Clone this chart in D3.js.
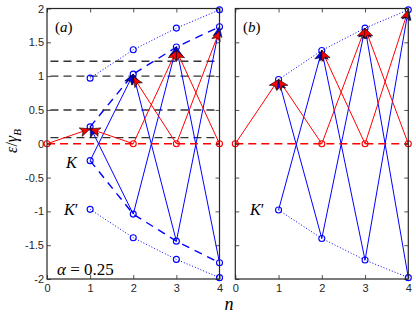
<!DOCTYPE html>
<html>
<head>
<meta charset="utf-8">
<script src="https://cdn.jsdelivr.net/npm/d3@7"></script>
<style>
body { margin: 0; background: #fff; }
svg { display: block; }
</style>
</head>
<body>
<svg id="chart" width="416" height="314"></svg>
<script>
var nTicks = [0, 1, 2, 3, 4];
var yTicks = [-2, -1.5, -1, -0.5, 0, 0.5, 1, 1.5, 2];
var levelN = [1, 2, 3, 4];
var zeroN = [0, 2, 3, 4];

// panel (a), alpha = 0.25
var aKpUp = [0.97, 1.39, 1.71, 1.98];
var aKpDown = [-0.97, -1.39, -1.71, -1.98];
var aKUp = [0.25, 1.03, 1.43, 1.73];
var aKDown = [-0.25, -1.04, -1.44, -1.76];
var aRedTop = [0.22, 0.99, 1.38, 1.67];
var aGuides = [1.22, 1.0, 0.5, 0.09];

// panel (b)
var bUp = [0.95, 1.38, 1.71, 1.98];
var bDown = [-0.98, -1.40, -1.72, -1.98];

// transitions: red from zero level at n to top level at m, blue from lower level at n to top level at m
var redFrom = [0, 2, 2, 3, 3, 4];
var redTo = [1, 1, 3, 2, 4, 3];
var blueFrom = [1, 2, 2, 3, 3, 4];
var blueTo = [2, 1, 3, 2, 4, 3];

var RED = '#ff0000', BLUE = '#0000ff', AX = '#262626';

var svg = d3.select('#chart');

var y = d3.scaleLinear().domain([-2, 2]).range([279, 8.5]);
var xA = d3.scaleLinear().domain([0, 4]).range([47, 219.5]);
var xB = d3.scaleLinear().domain([0, 4]).range([235.3, 408.3]);

function drawAxes(x, showY) {
  var g = svg.append('g');
  var bottom = d3.axisBottom(x).tickValues(nTicks).tickSize(-4).tickSizeOuter(0).tickPadding(5)
    .tickFormat(function(d) { return String(d); });
  var top = d3.axisTop(x).tickValues(nTicks).tickSize(-4).tickSizeOuter(0).tickFormat('');
  var left = d3.axisLeft(y).tickValues(yTicks).tickSize(-4).tickSizeOuter(0).tickPadding(3)
    .tickFormat(function(d) { return showY ? String(d) : ''; });
  var right = d3.axisRight(y).tickValues(yTicks).tickSize(-4).tickSizeOuter(0).tickFormat('');

  g.append('g').attr('transform', 'translate(0,' + y(-2) + ')').call(bottom);
  g.append('g').attr('transform', 'translate(0,' + y(2) + ')').call(top);
  g.append('g').attr('transform', 'translate(' + x(0) + ',0)').call(left);
  g.append('g').attr('transform', 'translate(' + x(4) + ',0)').call(right);

  g.selectAll('.domain').remove();
  g.selectAll('.tick line').attr('stroke', AX).attr('stroke-width', 0.8);
  g.selectAll('.tick text')
    .attr('fill', AX)
    .style('font-family', '"Liberation Sans", Arial, sans-serif')
    .style('font-size', '11px');

  g.append('rect')
    .attr('x', x(0)).attr('y', y(2))
    .attr('width', x(4) - x(0)).attr('height', y(-2) - y(2))
    .attr('fill', 'none').attr('stroke', AX).attr('stroke-width', 1.2);
}

function polyline(x, ns, vals, stroke, dash, width) {
  var line = d3.line().x(function(d, i) { return x(ns[i]); }).y(function(d) { return y(d); });
  svg.append('path')
    .attr('d', line(vals))
    .attr('fill', 'none')
    .attr('stroke', stroke)
    .attr('stroke-width', width)
    .attr('stroke-dasharray', dash);
}

function circles(x, ns, vals, stroke) {
  svg.append('g').selectAll('circle')
    .data(vals).join('circle')
      .attr('cx', function(d, i) { return x(ns[i]); })
      .attr('cy', function(d) { return y(d); })
      .attr('r', 3)
      .attr('fill', 'none')
      .attr('stroke', stroke)
      .attr('stroke-width', 1.1);
}

function arrowHead(x0, y0, x1, y1, color) {
  var a = Math.atan2(y1 - y0, x1 - x0);
  var L = 10, W = 4.5;
  var pts = [
    [0, 0], [-L, -W], [-L * 0.75, 0], [-L, W]
  ].map(function(p) {
    return [x1 + p[0] * Math.cos(a) - p[1] * Math.sin(a), y1 + p[0] * Math.sin(a) + p[1] * Math.cos(a)];
  });
  svg.append('path')
    .attr('d', 'M' + pts.join('L') + 'Z')
    .attr('fill', color)
    .attr('stroke', '#000')
    .attr('stroke-width', 0.6);
}

function transitions(x, redTop, blueTop, blueLow) {
  var segs = [];
  blueFrom.forEach(function(n, i) {
    var m = blueTo[i];
    segs.push({ x0: x(n), y0: y(blueLow[n - 1]), x1: x(m), y1: y(blueTop[m - 1]), c: BLUE });
  });
  redFrom.forEach(function(n, i) {
    var m = redTo[i];
    segs.push({ x0: x(n), y0: y(0), x1: x(m), y1: y(redTop[m - 1]), c: RED });
  });
  svg.append('g').selectAll('line')
    .data(segs).join('line')
      .attr('x1', function(d) { return d.x0; })
      .attr('y1', function(d) { return d.y0; })
      .attr('x2', function(d) { return d.x1; })
      .attr('y2', function(d) { return d.y1; })
      .attr('stroke', function(d) { return d.c; })
      .attr('stroke-width', 1);
  return segs;
}

// ---------- panel (a) ----------
svg.append('g').selectAll('line')
  .data(aGuides).join('line')
    .attr('x1', xA(0.08)).attr('x2', xA(3.95))
    .attr('y1', function(d) { return y(d); })
    .attr('y2', function(d) { return y(d); })
    .attr('stroke', '#333')
    .attr('stroke-width', 1.4)
    .attr('stroke-dasharray', '8,5');

polyline(xA, levelN, aKpUp, BLUE, '1,2', 1);
polyline(xA, levelN, aKpDown, BLUE, '1,2', 1);
polyline(xA, levelN, aKUp, BLUE, '8,6', 1.4);
polyline(xA, levelN, aKDown, BLUE, '8,6', 1.4);
var segsA = transitions(xA, aRedTop, aKUp, aKDown);
polyline(xA, [0, 4], [0, 0], RED, '8,5', 1.6);
circles(xA, levelN, aKpUp, BLUE);
circles(xA, levelN, aKpDown, BLUE);
circles(xA, levelN, aKUp, BLUE);
circles(xA, levelN, aKDown, BLUE);
circles(xA, zeroN, zeroN.map(function() { return 0; }), RED);
segsA.forEach(function(s) { arrowHead(s.x0, s.y0, s.x1, s.y1, s.c); });

// ---------- panel (b) ----------
polyline(xB, levelN, bUp, BLUE, '1,2', 1);
polyline(xB, levelN, bDown, BLUE, '1,2', 1);
var segsB = transitions(xB, bUp, bUp, bDown);
polyline(xB, [0, 4], [0, 0], RED, '8,5', 1.6);
circles(xB, levelN, bUp, BLUE);
circles(xB, levelN, bDown, BLUE);
circles(xB, zeroN, zeroN.map(function() { return 0; }), RED);
segsB.forEach(function(s) { arrowHead(s.x0, s.y0, s.x1, s.y1, s.c); });

drawAxes(xA, true);
drawAxes(xB, false);

// ---------- labels ----------
var serif = '"Liberation Serif", "Times New Roman", serif';

function label(x, yy, parts, size) {
  var t = svg.append('text')
    .attr('x', x).attr('y', yy)
    .style('font-family', serif)
    .style('font-size', size + 'px')
    .attr('fill', '#000');
  parts.forEach(function(p) {
    t.append('tspan').text(p[0]).style('font-style', p[1] ? 'italic' : 'normal');
  });
  return t;
}

label(55, 32, [['(', 0], ['a', 1], [')', 0]], 15);
label(243, 32, [['(', 0], ['b', 1], [')', 0]], 15);
label(66, 168, [['K', 1]], 16);
label(64, 215, [['K', 1], ['\u2032', 0]], 16);
label(250, 215, [['K', 1], ['\u2032', 0]], 16);
label(57, 275, [['\u03B1', 1], [' = 0.25', 0]], 17);
label(229, 310, [['n', 1]], 18).attr('text-anchor', 'middle');

var yl = svg.append('text')
  .attr('transform', 'translate(17,141) rotate(-90)')
  .attr('text-anchor', 'middle')
  .style('font-family', serif)
  .style('font-size', '16px');
yl.append('tspan').text('\u03B5').style('font-style', 'italic');
yl.append('tspan').text('/');
yl.append('tspan').text('\u03B3').style('font-style', 'italic');
yl.append('tspan').text('B').style('font-style', 'italic').style('font-size', '11px').attr('dy', 4);
</script>
</body>
</html>
